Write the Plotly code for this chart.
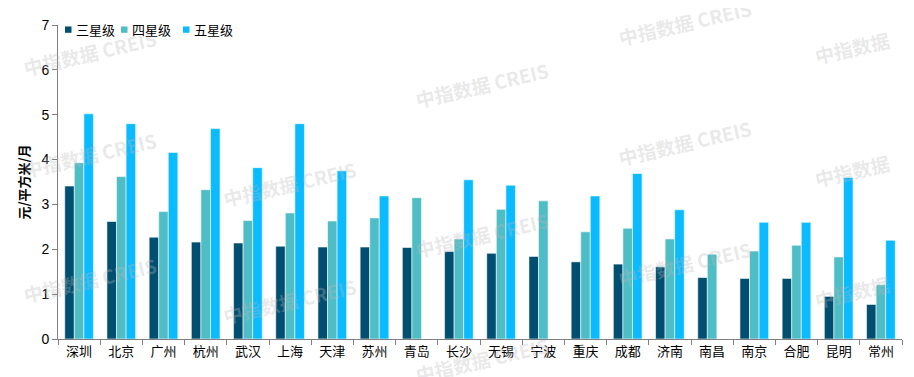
import plotly.graph_objects as go

cities = ["深圳", "北京", "广州", "杭州", "武汉", "上海", "天津", "苏州", "青岛", "长沙",
          "无锡", "宁波", "重庆", "成都", "济南", "南昌", "南京", "合肥", "昆明", "常州"]
three_star = [3.41, 2.62, 2.27, 2.16, 2.14, 2.07, 2.05, 2.05, 2.04, 1.95,
              1.91, 1.84, 1.72, 1.67, 1.61, 1.37, 1.35, 1.35, 0.95, 0.77]
four_star = [3.93, 3.62, 2.84, 3.33, 2.64, 2.81, 2.63, 2.70, 3.15, 2.23,
             2.89, 3.08, 2.39, 2.47, 2.23, 1.89, 1.96, 2.09, 1.83, 1.21]
five_star = [5.02, 4.80, 4.16, 4.69, 3.82, 4.80, 3.75, 3.19, None, 3.55,
             3.43, None, 3.19, 3.69, 2.88, None, 2.60, 2.60, 3.60, 2.20]
series_names = ["三星级", "四星级", "五星级"]
colors = ["#004F70", "#4FBDC6", "#0ABBFF"]
y_ticks = [0, 1, 2, 3, 4, 5, 6, 7]

CJK = "Noto Sans CJK SC, sans-serif"
FONT = "Liberation Sans, Noto Sans CJK SC, sans-serif"

# page body has an 8px default margin -> shrink figure accordingly
OFF = 8
PL, PR, PT, PB = 58, 902, 17, 339   # plot area in screen pixels
FW, FH = 914 - OFF, 377 - OFF


def px(x):
    return (x - PL) / (PR - PL)


def py(y):
    return (PB - y) / (PB - PT)


fig = go.Figure()
for name, vals, c in zip(series_names, [three_star, four_star, five_star], colors):
    fig.add_trace(go.Bar(x=cities, y=vals, name=name, marker_color=c, showlegend=False,
                         marker_line=dict(color="rgba(255,255,255,0.7)", width=0.8)))

# watermarks (screen pixel centres)
wm = [(90, 45, "中指数据 CREIS"), (90, 150, "中指数据 CREIS"), (90, 278, "中指数据 CREIS"),
      (290, 180, "中指数据 CREIS"), (290, 300, "中指数据 CREIS"),
      (482, 78, "中指数据 CREIS"), (482, 232, "中指数据 CREIS"), (482, 360, "中指数据 CREIS"),
      (685, 14, "中指数据 CREIS"), (685, 138, "中指数据 CREIS"), (685, 262, "中指数据 CREIS"),
      (852, 40, "中指数据"), (852, 166, "中指数据"), (852, 290, "中指数据")]
for x, y, t in wm:
    fig.add_annotation(x=px(x), y=py(y), xref="paper", yref="paper", text=t,
                       xanchor="center", yanchor="middle",
                       showarrow=False, textangle=-13,
                       font=dict(family=CJK, size=19,
                                 color="rgba(185,185,185,0.33)", weight="bold"))

# compact legend (small square swatch + label), as in the original
legend_x = [65, 121, 183]
for lx, name, c in zip(legend_x, series_names, colors):
    fig.add_shape(type="rect", xref="paper", yref="paper",
                  x0=px(lx), x1=px(lx + 6.5), y0=py(25), y1=py(18.5),
                  fillcolor=c, line=dict(width=0))
    fig.add_annotation(x=px(lx + 9), y=py(22), xref="paper", yref="paper",
                       text=name, showarrow=False, xanchor="left", yanchor="middle",
                       font=dict(family=CJK, size=13, color="black"))

fig.update_layout(
    width=FW, height=FH,
    margin=dict(l=PL - OFF, r=FW - (PR - OFF), t=PT - OFF, b=FH - (PB - OFF)),
    plot_bgcolor="white", paper_bgcolor="white",
    barmode="group", bargap=0.32, bargroupgap=0,
    font=dict(family=FONT, size=14, color="black"),
    showlegend=False,
    xaxis=dict(type="category", tickson="boundaries", ticks="outside", ticklen=5,
               tickcolor="#808080", showline=True, linecolor="#808080", linewidth=1,
               tickfont=dict(family=CJK, size=13),
               showgrid=False),
    yaxis=dict(range=[0, 7], tickvals=y_ticks, ticks="outside", ticklen=5,
               tickcolor="#808080", showline=True, linecolor="#808080", linewidth=1,
               showgrid=False, zeroline=False,
               title=dict(text="元/平方米/月", standoff=8,
                          font=dict(family=CJK, size=13, weight="bold"))),
)

fig.write_html("out.html")
